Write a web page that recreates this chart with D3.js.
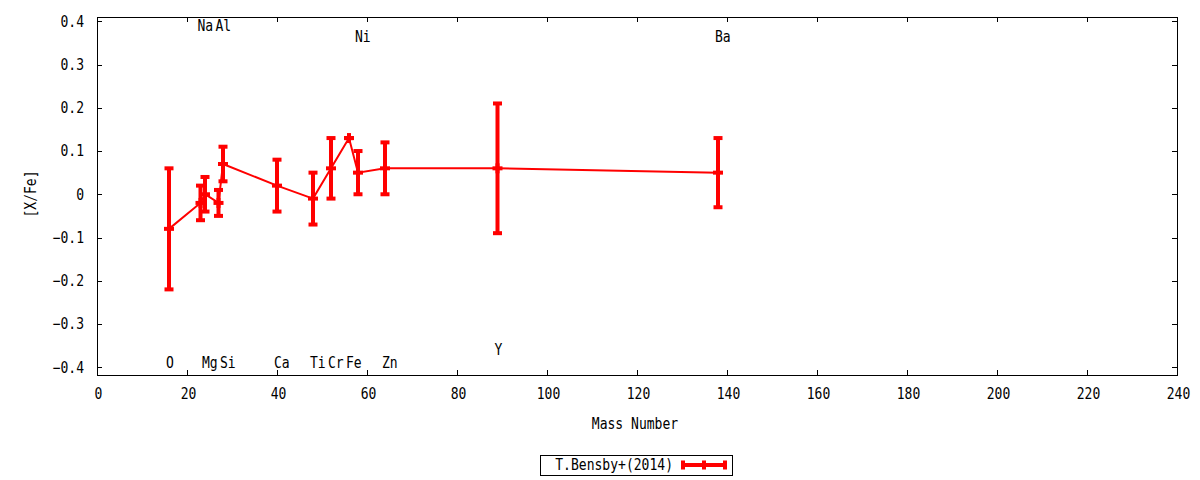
<!DOCTYPE html>
<html>
<head>
<meta charset="utf-8">
<script src="https://cdn.jsdelivr.net/npm/d3@7"></script>
<style>
  html, body { margin: 0; padding: 0; background: #fff; }
  svg { display: block; }
</style>
</head>
<body>
<svg id="chart" width="1200" height="480"></svg>
<script>
// ---- data ----
const elements = ["O", "Na", "Mg", "Al", "Si", "Ca", "Ti", "Cr", "Fe", "Ni", "Zn", "Y", "Ba"];
const massNumber = [16, 23, 24, 27, 28, 40, 48, 52, 56, 58, 64, 89, 138];
const xFe = [-0.08, -0.02, 0.00, -0.02, 0.07, 0.02, -0.01, 0.06, 0.13, 0.05, 0.06, 0.06, 0.05];
const xFeErr = [0.14, 0.04, 0.04, 0.03, 0.04, 0.06, 0.06, 0.07, 0.0, 0.05, 0.06, 0.15, 0.08];
const labelY = [-0.39, 0.39, -0.39, 0.39, -0.39, -0.39, -0.39, -0.39, -0.39, 0.365, -0.39, -0.36, 0.365];
const xTicks = [0, 20, 40, 60, 80, 100, 120, 140, 160, 180, 200, 220, 240];
const yTicks = [-0.4, -0.3, -0.2, -0.1, 0, 0.1, 0.2, 0.3, 0.4];
const seriesName = "T.Bensby+(2014)";
const xTitle = "Mass Number";
const yTitle = "[X/Fe]";

// ---- layout ----
const L = 97, R = 1177, T = 17, B = 375;
const svg = d3.select("#chart");
const x = d3.scaleLinear().domain([0, 240]).range([L, R]);
const y = d3.scaleLinear().domain([-0.418, 0.41]).range([B, T]);
const RED = "#ff0000";
const FONT = "'DejaVu Sans Mono', monospace";
const FS = 15, SX = 0.87;

function txt(g, s, px, py, anchor, rotate) {
  return g.append("text")
    .attr("transform", `translate(${px},${py})` + (rotate ? ` rotate(${rotate})` : "") + ` scale(${SX},1)`)
    .attr("text-anchor", anchor)
    .attr("dominant-baseline", "central")
    .attr("font-family", FONT)
    .attr("font-size", FS)
    .attr("fill", "#000")
    .text(s);
}

const data = elements.map((e, i) => ({ e, m: massNumber[i], v: xFe[i], err: xFeErr[i], ly: labelY[i] }));

// frame
svg.append("rect").attr("x", L + 0.5).attr("y", T + 0.5).attr("width", R - L).attr("height", B - T)
  .attr("fill", "none").attr("stroke", "#000").attr("stroke-width", 1);

// ticks
const tg = svg.append("g").attr("stroke", "#000").attr("stroke-width", 1);
xTicks.forEach(t => {
  const px = Math.round(x(t)) + 0.5;
  tg.append("line").attr("x1", px).attr("x2", px).attr("y1", B).attr("y2", B - 5);
  tg.append("line").attr("x1", px).attr("x2", px).attr("y1", T).attr("y2", T + 5);
});
yTicks.forEach(t => {
  const py = Math.round(y(t)) + 0.5;
  tg.append("line").attr("x1", L).attr("x2", L + 5).attr("y1", py).attr("y2", py);
  tg.append("line").attr("x1", R).attr("x2", R - 5).attr("y1", py).attr("y2", py);
});

const lg = svg.append("g");
xTicks.forEach(t => txt(lg, d3.format("d")(t), x(t) + 1.5, 394, "middle"));
yTicks.forEach(t => txt(lg, t === 0 ? "0" : d3.format(".1f")(t), 84, y(t), "end"));

// axis titles
txt(lg, xTitle, (L + R) / 2 - 2, 424, "middle");
txt(lg, yTitle, 31, (T + B) / 2 - 2, "middle", -90);

// connecting line
svg.append("path")
  .datum(data)
  .attr("fill", "none")
  .attr("stroke", RED)
  .attr("stroke-width", 2)
  .attr("d", d3.line().x(d => x(d.m)).y(d => y(d.v)));

// error bars
const eg = svg.append("g").attr("fill", RED);
data.forEach(d => {
  const cx = x(d.m), yt = y(d.v + d.err), yb = y(d.v - d.err), yc = y(d.v);
  eg.append("rect").attr("x", cx - 2).attr("y", yt).attr("width", 4).attr("height", yb - yt);
  eg.append("rect").attr("x", cx - 4.5).attr("y", yt - 2).attr("width", 9).attr("height", 4);
  eg.append("rect").attr("x", cx - 4.5).attr("y", yb - 2).attr("width", 9).attr("height", 4);
  // '+' point marker
  eg.append("rect").attr("x", cx - 5).attr("y", yc - 2).attr("width", 10).attr("height", 4);
  eg.append("rect").attr("x", cx - 2).attr("y", yc - 5).attr("width", 4).attr("height", 10);
});

// element labels
const elg = svg.append("g");
data.forEach(d => txt(elg, d.e, x(d.m) - 3, y(d.ly), "start"));

// legend
const leg = svg.append("g");
leg.append("rect").attr("x", 540.5).attr("y", 455.5).attr("width", 192).attr("height", 20)
  .attr("fill", "#fff").attr("stroke", "#000").attr("stroke-width", 1);
txt(leg, seriesName, 673, 465, "end");
const legY = 465;
leg.append("line").attr("x1", 683).attr("x2", 725).attr("y1", legY).attr("y2", legY)
  .attr("stroke", RED).attr("stroke-width", 4);
[683, 704, 725].forEach(px => {
  leg.append("rect").attr("x", px - 2).attr("y", legY - 4.5).attr("width", 4).attr("height", 9).attr("fill", RED);
});
</script>
</body>
</html>
